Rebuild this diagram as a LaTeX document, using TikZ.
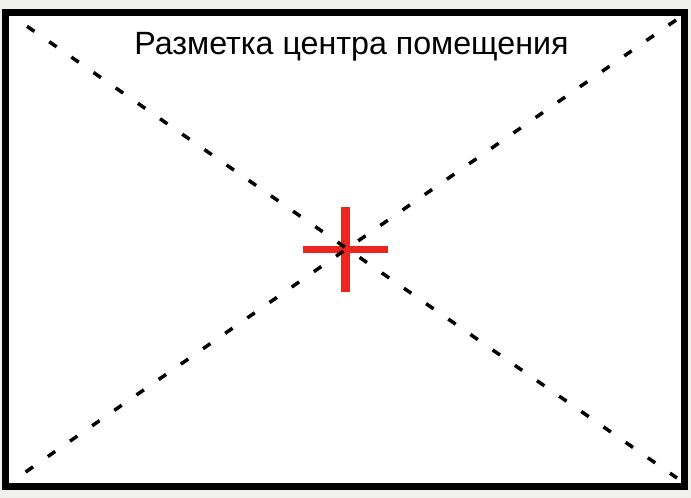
\documentclass[tikz,border=0pt]{standalone}
\usepackage{fontspec}
\setmainfont{Liberation Sans}
\definecolor{crossred}{RGB}{234,38,30}
\definecolor{bggray}{RGB}{240,240,236}
\begin{document}
\begin{tikzpicture}[x=1pt,y=-1pt,
  diag/.style={line width=3.5pt,dash pattern=on 9pt off 18pt},
  frame/.style={line width=7pt},
  crossbar/.style={fill=crossred,draw=none}]
\fill[bggray] (0,0) rectangle (691,498);
\useasboundingbox (0,0) rectangle (691,498);
\fill[white] (2,9) rectangle (688,490);
\draw[frame] (5.5,12.5) rectangle (684.5,486.5);
\fill[crossbar] (341,207) rectangle (350,292);
\fill[crossbar] (303,246) rectangle (388,253);
\coordinate (center) at (345.5,249.5);
\coordinate (tl) at (18,20);
\coordinate (br) at (677,478);
\coordinate (tr) at (676,20);
\coordinate (bl) at (17,478);
\draw[diag,dash phase=16pt] (tl) -- (br);
\draw[diag,dash phase=0pt] (tr) -- (bl);
\node[anchor=base,inner sep=0pt,font=\fontsize{32.2}{38}\selectfont] (title) at (351.5,54) {Разметка центра помещения};
\end{tikzpicture}
\end{document}
